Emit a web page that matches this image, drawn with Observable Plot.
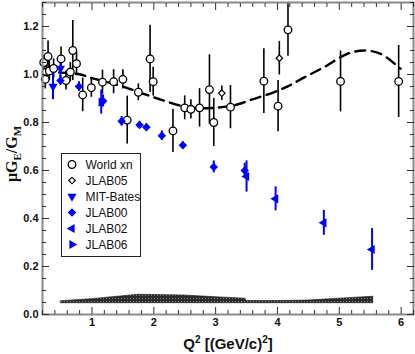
<!DOCTYPE html>
<html><head><meta charset="utf-8">
<script src="https://cdn.jsdelivr.net/npm/d3@7"></script>
<script src="https://cdn.jsdelivr.net/npm/@observablehq/plot@0.6"></script>
<style>
body{margin:0;background:#fff;}
#wrap{position:relative;width:415px;height:354px;}
</style></head><body><div id="wrap"></div>
<script>
// ---------- data ----------
const worldQ2    = [0.22,0.29,0.26,0.31,0.38,0.245,0.50,0.58,0.65,0.69,0.75,0.85,0.99,1.17,1.35,1.50,1.57,1.75,1.94,1.99,2.31,2.50,2.60,2.74,2.90,2.97,3.24,3.78,4.01,4.17,5.02,5.96];
const worldRatio = [1.05,1.075,1.01,1.015,1.025,0.98,1.065,0.975,1.01,1.10,1.045,0.915,0.945,0.968,0.97,0.98,0.81,0.926,1.065,0.97,0.765,0.861,0.855,0.861,0.937,0.80,0.864,0.972,0.868,1.186,0.971,0.971];
const worldErr   = [0.03,0.065,0.03,0.04,0.04,0.04,0.05,0.04,0.04,0.125,0.05,0.07,0.04,0.05,0.05,0.04,0.10,0.035,0.14,0.06,0.09,0.05,0.04,0.08,0.145,0.10,0.09,0.135,0.107,0.11,0.127,0.15];

const jlab05Q2    = [3.10,4.03];
const jlab05Ratio = [0.922,1.068];
const jlab05Err   = [0.03,0.07];

const mitQ2    = [0.37,0.49];
const mitRatio = [0.95,1.025];
const mitErr   = [0.055,0.05];

const jlab00Q2    = [0.49,0.79,1.18,1.48,1.77,1.88,2.13,2.47,2.97,3.47];
const jlab00Ratio = [0.975,0.95,0.89,0.805,0.79,0.78,0.745,0.705,0.615,0.60];
const jlab00Err   = [0.02,0.02,0.025,0.02,0.015,0.015,0.02,0.015,0.025,0.03];

const jlab02Q2    = [3.50,3.97,4.75,5.53];
const jlab02Ratio = [0.575,0.482,0.382,0.271];
const jlab02Err   = [0.065,0.05,0.052,0.087];

const jlab06Q2    = [1.15];
const jlab06Ratio = [0.885];
const jlab06Err   = [0.05];

const curveQ2    = [0.2,0.5,0.81,1.0,1.5,1.75,2.0,2.19,2.4,2.7,3.02,3.35,3.59,3.94,4.2,4.42,4.75,5.13,5.4,5.67,5.99];
const curveRatio = [1.005,1.008,1.0,0.985,0.95,0.927,0.905,0.889,0.872,0.86,0.862,0.875,0.896,0.926,0.955,0.986,1.03,1.086,1.10,1.086,1.024];

const bandQ2   = [0.5,1.0,1.75,2.5,3.0,3.48,3.50,4.0,4.5,5.0,5.55];
const bandLow  = [0.047,0.047,0.047,0.047,0.047,0.047,0.047,0.047,0.047,0.047,0.047];
const bandHigh = [0.055,0.064,0.082,0.079,0.072,0.066,0.056,0.056,0.058,0.066,0.074];

const xTickValues = [1,2,3,4,5,6];
const yTickValues = [0,0.2,0.4,0.6,0.8,1.0,1.2];

const seriesNames = ["World xn","JLAB05","MIT-Bates","JLAB00","JLAB02","JLAB06"];

// ---------- build tables ----------
const mk = (q,v,e) => q.map((d,i)=>({q:d, v:v[i], e:e[i]}));
const world  = mk(worldQ2, worldRatio, worldErr);
const j05    = mk(jlab05Q2, jlab05Ratio, jlab05Err);
const mit    = mk(mitQ2, mitRatio, mitErr);
const j00    = mk(jlab00Q2, jlab00Ratio, jlab00Err);
const j02    = mk(jlab02Q2, jlab02Ratio, jlab02Err);
const j06    = mk(jlab06Q2, jlab06Ratio, jlab06Err);
const curve  = curveQ2.map((d,i)=>({q:d, v:curveRatio[i]}));
const band   = bandQ2.map((d,i)=>({q:d, lo:bandLow[i], hi:bandHigh[i]}));

const BLUE = "#0000ff";
const styles = [
  {name:seriesNames[0], data:world, symbol:"circle",   rotate:0,   r:3.8, fill:"white", stroke:"black", sw:1.3, bar:"black", barW:1.6},
  {name:seriesNames[1], data:j05,   symbol:"square",   rotate:45,  r:2.6, fill:"white", stroke:"black", sw:1.2, bar:"black", barW:1.6},
  {name:seriesNames[2], data:mit,   symbol:"triangle", rotate:180, r:3.4, fill:BLUE,   stroke:"none",  sw:0,   bar:BLUE,    barW:2},
  {name:seriesNames[3], data:j00,   symbol:"square",   rotate:45,  r:3.4, fill:BLUE,   stroke:"none",  sw:0,   bar:BLUE,    barW:2},
  {name:seriesNames[4], data:j02,   symbol:"triangle", rotate:-90, r:3.4, fill:BLUE,   stroke:"none",  sw:0,   bar:BLUE,    barW:2},
  {name:seriesNames[5], data:j06,   symbol:"triangle", rotate:90,  r:3.4, fill:BLUE,   stroke:"none",  sw:0,   bar:BLUE,    barW:2}
];

const xMinor = d3.range(0.2, 6.21, 0.2).map(d=>+d.toFixed(2)).filter(d=>!xTickValues.some(t=>Math.abs(t-d)<1e-6));
const yMinor = d3.range(0, 1.301, 0.05).map(d=>+d.toFixed(2)).filter(d=>!yTickValues.some(t=>Math.abs(t-d)<1e-6));

const tickColor = "#333";
const axisFont = {fontWeight:"bold", fontSize:11};

const marks = [
  Plot.areaY(band, {x:"q", y1:"lo", y2:"hi", fill:"url(#hatchBand)", stroke:"#111", strokeWidth:0.6}),
  Plot.line(curve, {x:"q", y:"v", curve:"catmull-rom", stroke:"black", strokeWidth:2.4, strokeDasharray:"10,6.5", clip:true}),
];
const order = [0,1,2,3,4,5];
for (const i of order) {
  const s = styles[i];
  marks.push(Plot.ruleX(s.data, {x:"q", y1:d=>d.v-d.e, y2:d=>d.v+d.e, stroke:s.bar, strokeWidth:s.barW, clip:true}));
}
for (const i of order) {
  const s = styles[i];
  marks.push(Plot.dot(s.data, {x:"q", y:"v", symbol:s.symbol, rotate:s.rotate, r:s.r, fill:s.fill, stroke:s.stroke, strokeWidth:s.sw}));
}
marks.push(
  Plot.frame({stroke:"#8a8a8a", strokeWidth:2}),
  Plot.axisX({anchor:"bottom", ticks:xTickValues, tickSize:0, tickPadding:4, tickFormat:d=>String(d), label:null, ...axisFont, color:"#111"}),
  Plot.axisX({anchor:"bottom", ticks:xTickValues, tickSize:-7, tickFormat:()=>"", label:null, stroke:tickColor}),
  Plot.axisX({anchor:"bottom", ticks:xMinor, tickSize:-4, tickFormat:()=>"", label:null, stroke:tickColor}),
  Plot.axisX({anchor:"top", ticks:xTickValues, tickSize:-7, tickFormat:()=>"", label:null, stroke:tickColor}),
  Plot.axisX({anchor:"top", ticks:xMinor, tickSize:-4, tickFormat:()=>"", label:null, stroke:tickColor}),
  Plot.axisY({anchor:"left", ticks:yTickValues, tickSize:0, tickPadding:4, tickFormat:d=>d.toFixed(1), label:null, ...axisFont, color:"#111"}),
  Plot.axisY({anchor:"left", ticks:yTickValues, tickSize:-7, tickFormat:()=>"", label:null, stroke:tickColor}),
  Plot.axisY({anchor:"left", ticks:yMinor, tickSize:-4, tickFormat:()=>"", label:null, stroke:tickColor}),
  Plot.axisY({anchor:"right", ticks:yTickValues, tickSize:-7, tickFormat:()=>"", label:null, stroke:tickColor}),
  Plot.axisY({anchor:"right", ticks:yMinor, tickSize:-4, tickFormat:()=>"", label:null, stroke:tickColor})
);

const chart = Plot.plot({
  width:415, height:354,
  marginLeft:42, marginRight:2, marginTop:2, marginBottom:40,
  style:{fontFamily:"'Liberation Sans', Arial, sans-serif", background:"white"},
  x:{domain:[0.2,6.2]},
  y:{domain:[0,1.3]},
  marks
});

const svg = d3.select(chart);
const defs = svg.insert("defs", ":first-child");
const pat = defs.append("pattern").attr("id","hatchBand").attr("patternUnits","userSpaceOnUse")
  .attr("width",3).attr("height",3);
pat.append("rect").attr("width",3).attr("height",3).attr("fill","#2a2a2a");
pat.append("rect").attr("x",1).attr("y",1).attr("width",1).attr("height",1).attr("fill","#8a8a8a");

// x label
svg.append("text").attr("x", 228).attr("y", 349).attr("text-anchor","middle")
  .attr("font-family","'Liberation Sans', Arial, sans-serif").attr("font-weight","bold").attr("font-size",15)
  .attr("fill","#111")
  .call(t=>{
    t.append("tspan").text("Q");
    t.append("tspan").attr("dy",-6).attr("font-size",10).text("2");
    t.append("tspan").attr("dy",6).text(" [(GeV/c)");
    t.append("tspan").attr("dy",-6).attr("font-size",10).text("2");
    t.append("tspan").attr("dy",6).text("]");
  });

// y label
svg.append("text").attr("transform","translate(17,154) rotate(-90)").attr("text-anchor","middle")
  .attr("font-family","'Liberation Serif', 'Times New Roman', serif").attr("font-weight","bold").attr("font-size",16)
  .attr("fill","#111")
  .call(t=>{
    t.append("tspan").text("μG");
    t.append("tspan").attr("dy",4).attr("font-size",11).text("E");
    t.append("tspan").attr("dy",-4).text("/G");
    t.append("tspan").attr("dy",4).attr("font-size",11).text("M");
  });

// legend
const lg = svg.append("g").attr("transform","translate(61.5,153.5)");
lg.append("rect").attr("width",79).attr("height",103).attr("fill","white").attr("stroke","#222").attr("stroke-width",1);
const symMap = {circle:d3.symbolCircle, square:d3.symbolSquare, triangle:d3.symbolTriangle};
styles.forEach((s,i)=>{
  const cy = 11 + 16*i;
  lg.append("path")
    .attr("d", d3.symbol(symMap[s.symbol], Math.PI*s.r*s.r)())
    .attr("transform", `translate(10.5,${cy}) rotate(${s.rotate})`)
    .attr("fill", s.fill).attr("stroke", s.stroke).attr("stroke-width", s.sw);
  lg.append("text").attr("x",24).attr("y",cy+4.5).attr("text-anchor","start")
    .attr("font-family","'Liberation Sans', Arial, sans-serif").attr("font-size",12).attr("fill","#111")
    .text(s.name);
});

document.getElementById("wrap").appendChild(chart);
</script></body></html>
